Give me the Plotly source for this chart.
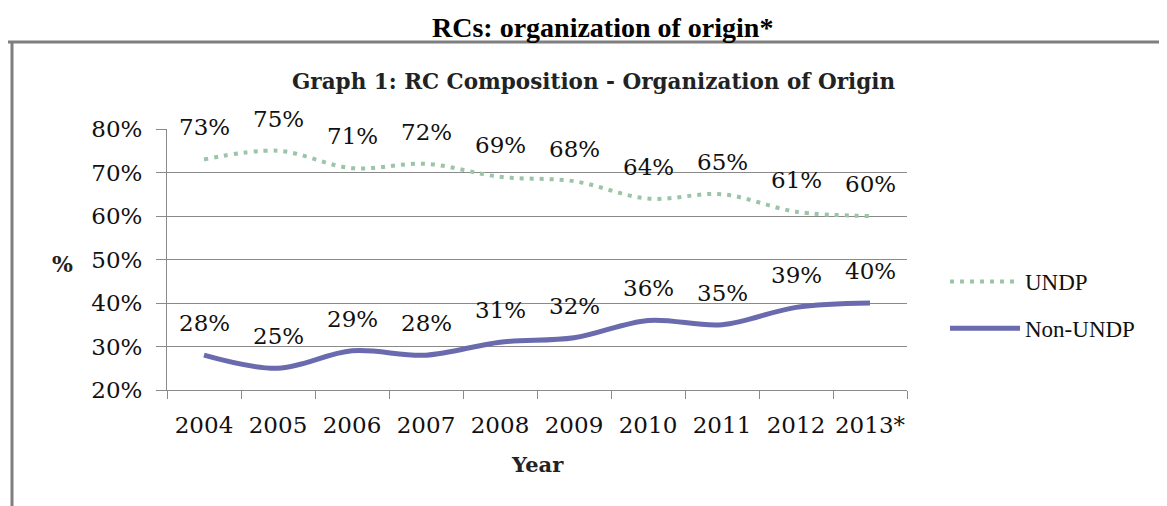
import plotly.graph_objects as go

years = ["2004", "2005", "2006", "2007", "2008", "2009", "2010", "2011", "2012", "2013*"]
undp = [0.73, 0.75, 0.71, 0.72, 0.69, 0.68, 0.64, 0.65, 0.61, 0.60]
non_undp = [0.28, 0.25, 0.29, 0.28, 0.31, 0.32, 0.36, 0.35, 0.39, 0.40]
y_ticks = [0.2, 0.3, 0.4, 0.5, 0.6, 0.7, 0.8]

# page body adds an 8px offset; compensate so screen positions match
OFF = 8
W, H = 1167, 506
ML, MR, MT, MB = 167 - OFF, 260 + OFF, 129 - OFF, 116 + OFF
PW, PH = W - ML - MR, H - MT - MB


def px(x):
    return (x - OFF - ML) / PW


def py(y):
    return (H - MB - (y - OFF)) / PH


LABEL_FONT = "DejaVu Serif"
GRAY = "#8a8a8a"

fig = go.Figure()
fig.add_trace(go.Scatter(
    x=years, y=undp, name="UNDP", mode="lines",
    line=dict(color="#9cc4a6", width=4, dash="4px,6px", shape="spline", smoothing=1),
    legendgroup="a",
))
fig.add_trace(go.Scatter(
    x=years, y=non_undp, name="Non-UNDP", mode="lines",
    line=dict(color="#6a6aae", width=5, shape="spline", smoothing=1),
    legendgroup="b",
))

annotations = []
for series in (undp, non_undp):
    for i, yv in enumerate(series):
        annotations.append(dict(
            x=i, y=yv, xref="x", yref="y", text=f"{round(yv * 100)}%",
            showarrow=False, yshift=32, font=dict(family=LABEL_FONT, size=23, color="#111"),
        ))

annotations += [
    dict(x=px(602), y=py(27), xref="paper", yref="paper", showarrow=False,
         text="<b>RCs: organization of origin*</b>",
         font=dict(family="Liberation Serif", size=28, color="#000"),
         xanchor="center", yanchor="middle"),
    dict(x=px(593), y=py(81), xref="paper", yref="paper", showarrow=False,
         text="<b>Graph 1: RC Composition - Organization of Origin</b>",
         font=dict(family=LABEL_FONT, size=21.5, color="#222"),
         xanchor="center", yanchor="middle"),
    dict(x=px(62), y=py(264), xref="paper", yref="paper", showarrow=False,
         text="<b>%</b>", font=dict(family=LABEL_FONT, size=22, color="#222"),
         xanchor="center", yanchor="middle"),
    dict(x=px(537), y=py(464), xref="paper", yref="paper", showarrow=False,
         text="<b>Year</b>", font=dict(family=LABEL_FONT, size=21, color="#222"),
         xanchor="center", yanchor="middle"),
]

shapes = [
    dict(type="line", xref="paper", yref="paper", x0=px(5), x1=px(1180), y0=py(42), y1=py(42),
         line=dict(color="#7f7f7f", width=3)),
    dict(type="line", xref="paper", yref="paper", x0=px(12), x1=px(12), y0=py(42), y1=py(520),
         line=dict(color="#7f7f7f", width=3)),
]

fig.update_layout(
    width=W, height=H,
    margin=dict(l=ML, r=MR, t=MT, b=MB, autoexpand=False),
    paper_bgcolor="white", plot_bgcolor="white",
    showlegend=True,
    legend=dict(x=px(945), y=py(305), xanchor="left", yanchor="middle",
                font=dict(family="Liberation Serif", size=23, color="#111"),
                itemwidth=70, tracegroupgap=14, bgcolor="rgba(0,0,0,0)"),
    annotations=annotations,
    shapes=shapes,
    xaxis=dict(type="category", categoryorder="array", categoryarray=years,
               range=[-0.5, len(years) - 0.5],
               showgrid=False, showline=True, linecolor=GRAY, linewidth=1,
               ticks="outside", tickson="boundaries", ticklen=8, tickcolor=GRAY,
               tickangle=0, automargin=False, ticklabelstandoff=14,
               tickfont=dict(family=LABEL_FONT, size=23, color="#111")),
    yaxis=dict(range=[0.2, 0.8], tickvals=y_ticks, tickformat=".0%",
               showgrid=True, gridcolor=GRAY, gridwidth=1,
               showline=True, linecolor=GRAY, linewidth=1,
               ticks="outside", ticklen=10, tickcolor=GRAY, ticklabelstandoff=9,
               zeroline=False, automargin=False,
               tickfont=dict(family=LABEL_FONT, size=23, color="#111")),
)

fig.write_html("out.html")
